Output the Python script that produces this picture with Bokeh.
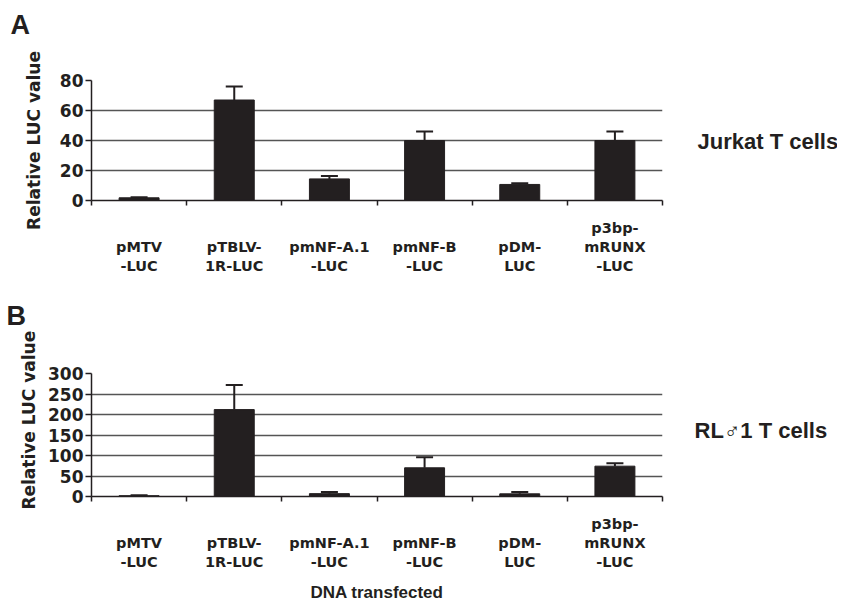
import numpy as np
from bokeh.plotting import figure
from bokeh.layouts import column
from bokeh.models import (ColumnDataSource, Whisker, TeeHead, LinearAxis,
                          FixedTicker, Range1d)
from bokeh.embed import file_html
from bokeh.resources import INLINE

# ---------------- data ----------------
categories = ["pMTV-LUC", "pTBLV-1R-LUC", "pmNF-A.1-LUC", "pmNF-B-LUC",
              "pDM-LUC", "p3bp-mRUNX-LUC"]
category_labels = ["pMTV\n-LUC", "pTBLV-\n1R-LUC", "pmNF-A.1\n-LUC",
                   "pmNF-B\n-LUC", "pDM-\nLUC", "p3bp-\nmRUNX\n-LUC"]

jurkat_mean = [1.8, 67, 14.4, 40, 10.7, 40]
jurkat_err = [0.3, 9, 2.0, 6, 0.8, 6]
jurkat_ticks = [0, 20, 40, 60, 80]

rl_mean = [2, 212, 7, 70, 6.5, 74]
rl_err = [1, 60, 4, 26, 4.5, 7]
rl_ticks = [0, 50, 100, 150, 200, 250, 300]

INK = "#231f20"
TICK_FONT = "DejaVu Sans"
ARIAL = "Liberation Sans"
NBSP = "\u00a0"


def make_panel(means, errs, ticks, letter, cell_text, g):
    n = len(categories)
    xs = np.arange(n) + 0.5
    upper = [m + e for m, e in zip(means, errs)]
    src = ColumnDataSource(dict(x=xs, mean=means, upper=upper, cat=categories))

    # the panel letter is the title; a blank second line lifts it to the top
    p = figure(output_backend="svg", toolbar_location=None,
               title=letter + "\n" + NBSP,
               frame_width=571, frame_height=g["fh"],
               x_range=Range1d(0, n), y_range=Range1d(ticks[0], ticks[-1]),
               min_border_left=g["left"], min_border_right=g["right"],
               min_border_top=g["top"], min_border_bottom=g["bottom"])
    p.outline_line_color = None
    p.background_fill_color = "white"
    p.border_fill_color = "white"

    p.title.align = "left"
    p.title.offset = g["letter_offset"]
    p.title.standoff = g["letter_standoff"]
    p.title.text_line_height = g["letter_lh"]
    p.title.text_font = ARIAL
    p.title.text_font_size = "27px"
    p.title.text_font_style = "bold"
    p.title.text_color = INK

    # grid
    p.xgrid.visible = False
    p.ygrid.ticker = FixedTicker(ticks=ticks)
    p.ygrid.grid_line_color = "#555555"
    p.ygrid.grid_line_width = 1.5

    # y axis
    ya = p.yaxis[0]
    ya.ticker = FixedTicker(ticks=ticks)
    ya.major_label_text_font = TICK_FONT
    ya.major_label_text_font_size = "17px"
    ya.major_label_text_font_style = "bold"
    ya.major_label_text_color = INK
    ya.major_label_standoff = 2
    ya.major_tick_out = 6
    ya.major_tick_in = 0
    ya.minor_tick_line_color = None
    ya.axis_line_width = 1.5
    ya.axis_line_color = INK
    ya.major_tick_line_color = INK
    ya.major_tick_line_width = 1.5
    ya.axis_label = NBSP * g["title_pad"] + "Relative LUC value"
    ya.axis_label_text_font = TICK_FONT
    ya.axis_label_text_font_size = "17px"
    ya.axis_label_text_font_style = "bold"
    ya.axis_label_text_color = INK
    ya.axis_label_standoff = g["ytitle_standoff"]

    # x axis: labels at category centres, ticks (minor) at boundaries
    # pad shorter labels with empty first lines so that they sit at the bottom
    nlines = max(lbl.count("\n") + 1 for lbl in category_labels)
    padded = ["\n" * (nlines - (lbl.count("\n") + 1)) + lbl for lbl in category_labels]
    xa = p.xaxis[0]
    xa.ticker = FixedTicker(ticks=list(xs), minor_ticks=list(range(n + 1)))
    xa.major_label_overrides = {float(x): lbl for x, lbl in zip(xs, padded)}
    xa.major_label_text_font = TICK_FONT
    xa.major_label_text_font_size = "14.5px"
    xa.major_label_text_font_style = "bold"
    xa.major_label_text_color = INK
    xa.major_label_orientation = "horizontal"
    xa.major_label_standoff = g["cat_standoff"]
    xa.major_tick_line_color = None
    xa.major_tick_out = 0
    xa.major_tick_in = 0
    xa.minor_tick_out = 5
    xa.minor_tick_in = 0
    xa.minor_tick_line_color = INK
    xa.minor_tick_line_width = 1.5
    xa.axis_line_width = 1.5
    xa.axis_line_color = INK

    # cell-type label on the right
    ra = LinearAxis(ticker=FixedTicker(ticks=[g["cell_y"]]),
                    major_label_overrides={g["cell_y"]: cell_text},
                    axis_line_color=None, major_tick_line_color=None,
                    minor_tick_line_color=None, major_tick_out=0, major_tick_in=0,
                    major_label_standoff=g["cell_standoff"],
                    major_label_text_font=ARIAL, major_label_text_font_size="22px",
                    major_label_text_font_style="bold", major_label_text_color=INK)
    p.add_layout(ra, "right")

    # bars + error bars
    p.vbar(x="x", top="mean", bottom=0, width=0.42, source=src,
           fill_color=INK, line_color=INK)
    p.add_layout(Whisker(base="x", lower="mean", upper="upper", source=src,
                         line_color=INK, line_width=2,
                         upper_head=TeeHead(size=17, line_color=INK, line_width=2),
                         lower_head=None))
    return p


geom_a = dict(fh=120, left=87, right=169, top=80, bottom=94,
              letter_offset=-81, letter_standoff=4, letter_lh=1.3, title_pad=0,
              ytitle_standoff=13, cat_standoff=14, cell_y=39.3, cell_standoff=35)
geom_b = dict(fh=123, left=91, right=165, top=79, bottom=104,
              letter_offset=-85, letter_standoff=2, letter_lh=1.4, title_pad=5,
              ytitle_standoff=6, cat_standoff=14, cell_y=162, cell_standoff=32)

pa = make_panel(jurkat_mean, jurkat_err, jurkat_ticks, "A", "Jurkat T cells", geom_a)
pb = make_panel(rl_mean, rl_err, rl_ticks, "B", "RL\u26421 T cells", geom_b)

pb.xaxis[0].axis_label = "DNA transfected"
pb.xaxis[0].axis_label_text_font = ARIAL
pb.xaxis[0].axis_label_text_font_size = "17px"
pb.xaxis[0].axis_label_text_font_style = "bold"
pb.xaxis[0].axis_label_text_color = INK
pb.xaxis[0].axis_label_standoff = 10

layout = column(pa, pb, spacing=0)
open("out.html", "w").write(file_html(layout, INLINE))
